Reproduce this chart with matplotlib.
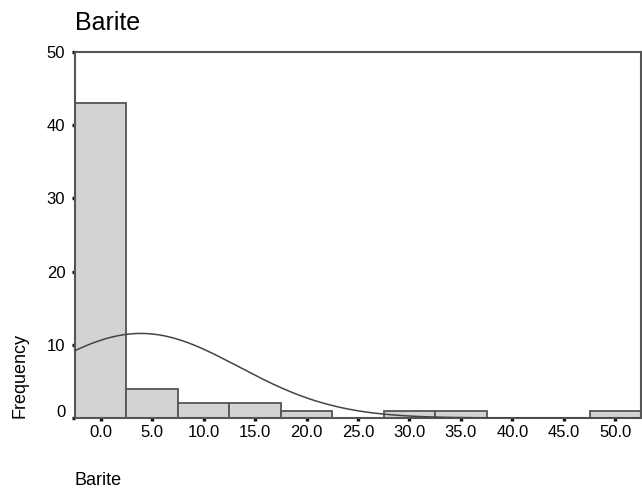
import numpy as np
import matplotlib
matplotlib.use("Agg")
import matplotlib.pyplot as plt
import matplotlib.transforms as mtransforms

plt.rcParams['font.family'] = ['Liberation Sans', 'DejaVu Sans']

# histogram of Barite values, bin centres and counts
bin_centers = [0, 5, 10, 15, 20, 25, 30, 35, 40, 45, 50]
counts = [43, 4, 2, 2, 1, 0, 1, 1, 0, 0, 1]
bin_width = 5.0
x_ticks = [0, 5, 10, 15, 20, 25, 30, 35, 40, 45, 50]
y_ticks = [0, 10, 20, 30, 40, 50]

# fitted normal curve parameters
mean = 3.9
std_dev = 9.5
n_total = sum(counts)

fig = plt.figure(figsize=(6.42, 4.90), dpi=100)
ax = fig.add_axes([0.1168, 0.147, 0.8816, 0.747])

ax.bar(bin_centers, counts, width=bin_width, color='#d3d3d3',
       edgecolor='#555555', linewidth=1.3, zorder=2)

xs = np.linspace(-2.5, 52.5, 400)
curve = n_total * bin_width / (std_dev * np.sqrt(2 * np.pi)) * \
    np.exp(-(xs - mean) ** 2 / (2 * std_dev ** 2))
ax.plot(xs, curve, color='#444444', linewidth=1.1, zorder=3)

ax.set_xlim(-2.5, 52.5)
ax.set_ylim(0, 50)
ax.set_xticks(x_ticks)
ax.set_xticklabels([f"{t:.1f}" for t in x_ticks])
ax.set_yticks(y_ticks)

for side in ['left', 'right', 'top', 'bottom']:
    ax.spines[side].set_color('#555555')
    ax.spines[side].set_linewidth(1.5)

ax.tick_params(axis='both', direction='out', length=2.4, width=2.4,
               color='#111111', labelsize=12)
ax.tick_params(axis='x', pad=2.6)
ax.tick_params(axis='y', pad=4.6)

# the zero label sits a little above its tick
fig.canvas.draw()
zero_label = ax.get_yticklabels()[0]
zero_label.set_transform(zero_label.get_transform() +
                         mtransforms.ScaledTranslation(0, 5 / 72, fig.dpi_scale_trans))

fig.text(20 / 642, 0.2327, 'Frequency', fontsize=13, rotation=90,
         ha='center', va='center')
fig.text(0.1168, 5 / 490, 'Barite', fontsize=13, ha='left', va='baseline')
fig.text(0.1168, 460 / 490, 'Barite', fontsize=18, ha='left', va='baseline')

fig.savefig('out.png', dpi=100)
